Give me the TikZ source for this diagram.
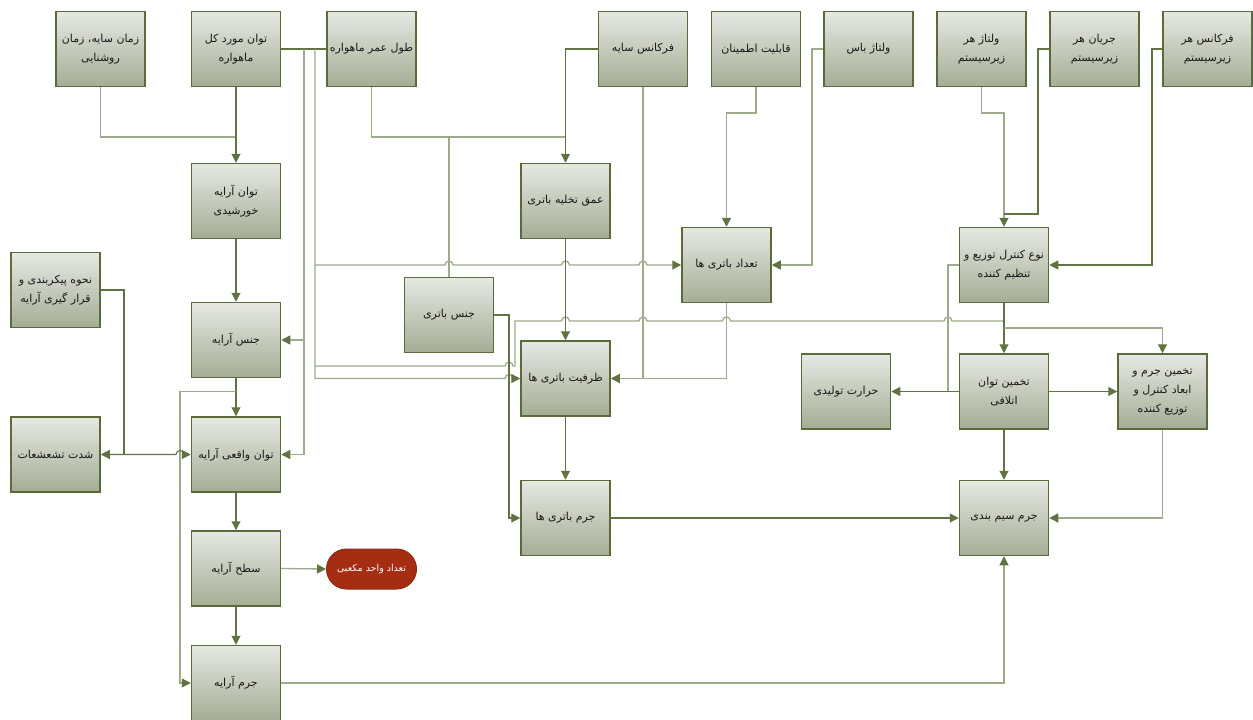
\documentclass[tikz,border=0pt]{standalone}
\usepackage{fontspec}
\newfontfamily\arabicfont[Script=Arabic]{DejaVu Sans}
\TeXXeTstate=1
\usetikzlibrary{arrows.meta}
\newcommand{\fatext}[1]{\beginR#1\endR}

\definecolor{boxline}{HTML}{5A6A3A}
\definecolor{linedark}{HTML}{627242}
\definecolor{linelite}{HTML}{9DAA8B}
\definecolor{boxtop}{HTML}{E6E8E3}
\definecolor{boxbot}{HTML}{A5AD95}
\definecolor{ovalfill}{HTML}{A52E12}
\definecolor{ovalline}{HTML}{8C2A12}

\tikzset{
  box/.style={draw=boxline, line width=1.5pt, top color=boxtop, bottom color=boxbot,
    minimum width=89pt, minimum height=75pt, inner sep=1pt, align=center,
    text=black!90, font=\arabicfont\fontsize{11}{19}\selectfont},
  oval/.style={draw=ovalline, line width=1pt, fill=ovalfill, rounded corners=20pt,
    minimum width=90pt, minimum height=40pt, text=white,
    font=\arabicfont\fontsize{9.5}{12}\selectfont},
  dk/.style={draw=linedark, line width=1.1pt},
  lt/.style={draw=linelite, line width=1.3pt},
  tip/.tip={Triangle[length=9pt,width=9pt,color=linedark]},
  arr/.style={-tip},
}

\begin{document}
\begin{tikzpicture}[x=1pt,y=-1pt]
\useasboundingbox (0,0) rectangle (1253,720);

% top row of inputs
\node[box] (A1) at (100.5,49) {\fatext{زمان سایه، زمان}\\\fatext{روشنایی}};
\node[box] (A2) at (236,49) {\fatext{توان مورد کل}\\\fatext{ماهواره}};
\node[box] (A3) at (371.5,49) {\fatext{طول عمر ماهواره}};
\node[box] (A4) at (643,49) {\fatext{فرکانس سایه}};
\node[box] (A5) at (756,49) {\fatext{قابلیت اطمینان}};
\node[box] (A6) at (868.5,49) {\fatext{ولتاژ باس}};
\node[box] (A7) at (981.5,49) {\fatext{ولتاژ هر}\\\fatext{زیرسیستم}};
\node[box] (A8) at (1094.5,49) {\fatext{جریان هر}\\\fatext{زیرسیستم}};
\node[box] (A9) at (1207.5,49) {\fatext{فرکانس هر}\\\fatext{زیرسیستم}};

% solar array column
\node[box] (B1) at (236,201) {\fatext{توان آرایه}\\\fatext{خورشیدی}};
\node[box] (B2) at (236,340) {\fatext{جنس آرایه}};
\node[box] (B3) at (236,454.5) {\fatext{توان واقعی آرایه}};
\node[box] (B4) at (236,568.5) {\fatext{سطح آرایه}};
\node[box] (B5) at (236,683) {\fatext{جرم آرایه}};
\node[box] (L1) at (55.5,290) {\fatext{نحوه پیکربندی و}\\\fatext{قرار گیری آرایه}};
\node[box] (L2) at (55.5,454.5) {\fatext{شدت تشعشعات}};
\node[oval] (C1) at (371.5,569) {\fatext{تعداد واحد مکعبی}};

% battery blocks
\node[box] (M1) at (565.5,201) {\fatext{عمق تخلیه باتری}};
\node[box] (M2) at (449,315) {\fatext{جنس باتری}};
\node[box] (M3) at (726.5,265) {\fatext{تعداد باتری ها}};
\node[box] (M4) at (565.5,378.5) {\fatext{ظرفیت باتری ها}};
\node[box] (M5) at (565.5,518) {\fatext{جرم باتری ها}};

% power control and distribution blocks
\node[box] (R1) at (1004,265) {\fatext{نوع کنترل توزیع و}\\\fatext{تنظیم کننده}};
\node[box] (R2) at (846,391.5) {\fatext{حرارت تولیدی}};
\node[box] (R3) at (1004,391.5) {\fatext{تخمین توان}\\\fatext{اتلافی}};
\node[box] (R4) at (1162.5,391.5) {\fatext{تخمین جرم و}\\\fatext{ابعاد کنترل و}\\\fatext{توزیع کننده}};
\node[box] (R5) at (1004,518) {\fatext{جرم سیم بندی}};

% junction points
\coordinate (jA) at (236,137);
\coordinate (jB) at (565.5,137);
\coordinate (ta) at (304,49);
\coordinate (tb) at (315,49);
\coordinate (jR) at (1004,321);
\coordinate (jS) at (1004,214);
\coordinate (jT) at (1004,328);
\coordinate (jU) at (948,391.5);
\coordinate (jV) at (236,391.5);
\coordinate (jW) at (124,454.5);

% array chain
\draw[lt] (A1.south) |- (jA);
\draw[dk,arr] (A2.south) -- (B1.north);
\draw[dk,arr] (B1.south) -- (B2.north);
\draw[dk,arr] (B2.south) -- (B3.north);
\draw[dk,arr] (B3.south) -- (B4.north);
\draw[dk,arr] (B4.south) -- (B5.north);
\draw[lt,arr] (B4.east) -- (C1.west);
\draw[lt,arr] (jV) -- (180,391.5) |- (B5.west);
\draw[dk] (L1.east) -- (124,290) -- (jW);
\draw[dk,tip-tip] (L2.east) -- (176,454.5) arc[start angle=180,end angle=0,radius=4pt] -- (B3.west);

% satellite power and lifetime feeds
\draw[dk] (A2.east) -- (A3.west);
\draw[lt,arr] (ta) |- (B3.east);
\draw[lt,arr] (ta |- B2.east) -- (B2.east);
\draw[lt,arr] (tb) -- (tb |- M4.west) -- (505,378.5) arc[start angle=180,end angle=0,radius=4pt] -- (M4.west);
\draw[lt,arr] (tb |- M3.west) -- (445,265) arc[start angle=180,end angle=0,radius=4pt]
  -- (561.5,265) arc[start angle=180,end angle=0,radius=4pt]
  -- (639,265) arc[start angle=180,end angle=0,radius=4pt] -- (M3.west);
\draw[lt] (315,366) -- (505,366) arc[start angle=180,end angle=0,radius=4pt] -- (515,366) -- (515,321)
  -- (561.5,321) arc[start angle=180,end angle=0,radius=4pt]
  -- (639,321) arc[start angle=180,end angle=0,radius=4pt]
  -- (722.5,321) arc[start angle=180,end angle=0,radius=4pt]
  -- (944,321) arc[start angle=180,end angle=0,radius=4pt] -- (jR);

% battery chain
\draw[lt] (A3.south) |- (jB);
\draw[lt] (M2.north) |- (jB);
\draw[dk,arr] (A4.west) -| (M1.north);
\draw[dk,arr] (M1.south) -- (M4.north);
\draw[dk,arr] (M4.south) -- (M5.north);
\draw[lt] (A4.south) -- (A4.south |- M4.east);
\draw[lt,arr] (M3.south) |- (M4.east);
\draw[lt,arr] (A5.south) -- (756,113) -| (M3.north);
\draw[lt,arr] (A6.west) -- (812,49) |- (M3.east);
\draw[dk,arr] (M2.east) -- (509,315) |- (M5.west);
\draw[dk,arr] (M5.east) -- (R5.west);

% control and distribution chain
\draw[lt,arr] (A7.south) -- (981.5,113) -| (R1.north);
\draw[dk] (A8.west) -- (1038,49) |- (jS);
\draw[dk,arr] (A9.west) -- (1152,49) |- (R1.east);
\draw[dk,arr] (R1.south) -- (R3.north);
\draw[lt,arr] (jT) -| (R4.north);
\draw[lt] (R1.west) -- (948,265) -- (jU);
\draw[dk,arr] (R3.west) -- (R2.east);
\draw[dk,arr] (R3.east) -- (R4.west);
\draw[dk,arr] (R3.south) -- (R5.north);
\draw[lt,arr] (R4.south) |- (R5.east);
\draw[lt,arr] (B5.east) -| (R5.south);
\end{tikzpicture}
\end{document}
